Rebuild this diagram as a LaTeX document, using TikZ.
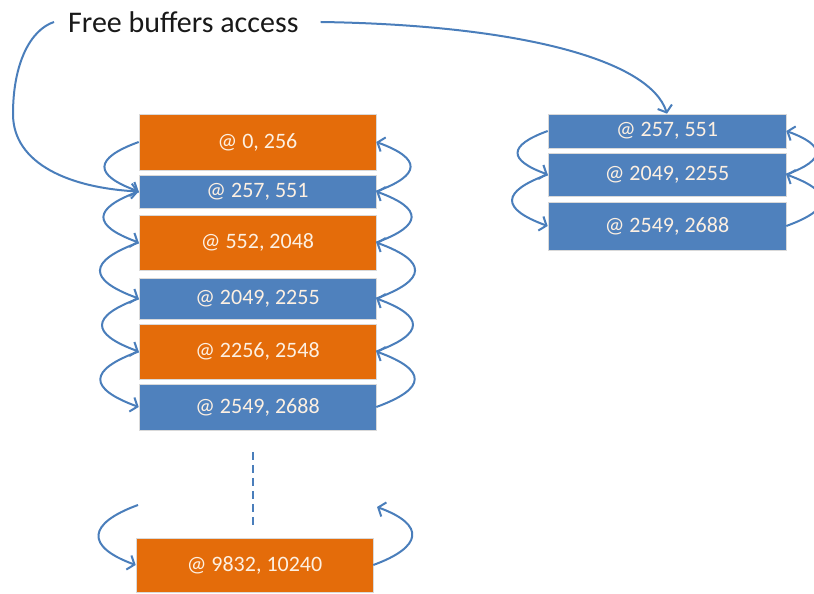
\documentclass[tikz,border=0pt]{standalone}
\usepackage{fontspec}
\setmainfont{Carlito}
\usetikzlibrary{arrows.meta}

\definecolor{usedorange}{RGB}{228,108,10}
\definecolor{freeblue}{RGB}{79,129,189}
\definecolor{linkblue}{RGB}{74,126,187}
\definecolor{labelcream}{RGB}{253,240,226}

\begin{document}
\begin{tikzpicture}[
                x=1pt, y=1pt,
                buffer/.style={draw=white!70!gray, line width=0.6pt, minimum width=237pt, inner sep=0pt,
                    text=labelcream, font=\fontsize{22}{25}\selectfont},
                used/.style={buffer, fill=usedorange},
                free/.style={buffer, fill=freeblue},
                link/.style={draw=linkblue, line width=2pt, -{Straight Barb[length=6pt,width=15pt]}},
                gapline/.style={draw=linkblue, line width=2pt, dash pattern=on 8pt off 5pt}
            ]
            \useasboundingbox (0, 0) rectangle (814, 594);
            \clip (0, 0) rectangle (814, 594);
            \node[font=\fontsize{30}{35}\selectfont, text=black!90, anchor=west, inner sep=0pt] (title) at (68, 572) {Free buffers access};
            % memory list
            \node[used, minimum height=56pt] (b1) at (257.5, 452) {@ 0, 256};
            \node[free, minimum height=33pt] (b2) at (257.5, 402.5) {@ 257, 551};
            \node[used, minimum height=55pt] (b3) at (257.5, 351.5) {@ 552, 2048};
            \node[free, minimum height=41pt] (b4) at (257.5, 295.5) {@ 2049, 2255};
            \node[used, minimum height=55pt] (b5) at (257.5, 242.5) {@ 2256, 2548};
            \node[free, minimum height=46pt] (b6) at (257.5, 187) {@ 2549, 2688};
            \node[used, minimum height=54pt] (b7) at (254.5, 29) {@ 9832, 10240};
            % free list
            \node[free, minimum height=34pt, minimum width=238pt] (r1) at (667, 463) {@ 257, 551};
            \node[free, minimum height=43pt, minimum width=238pt] (r2) at (667, 419.5) {@ 2049, 2255};
            \node[free, minimum height=48pt, minimum width=238pt] (r3) at (667, 368) {@ 2549, 2688};
            \coordinate (dtop) at (253, 142);
            \coordinate (dbot) at (253, 67);
            \coordinate (bl) at (138, 89);
            \coordinate (br) at (377, 87);
            \draw[gapline] (dtop) -- (dbot);
            \draw[link] ([xshift=-14pt]title.west) .. controls (30, 564) and (13, 530) .. (13, 480)
                .. controls (13, 430) and (70, 406) .. (b2.west);
            \draw[link] ([xshift=22pt]title.east) .. controls (520, 569) and (650, 534) .. (r1.north);
            \draw[link] (b1.west) to[out=200, in=160, looseness=2.5] (b2.west);
            \draw[link] (b2.west) to[out=200, in=160, looseness=2.5] (b3.west);
            \draw[link] (b3.west) to[out=200, in=160, looseness=2.5] (b4.west);
            \draw[link] (b4.west) to[out=200, in=160, looseness=2.5] (b5.west);
            \draw[link] (b5.west) to[out=200, in=160, looseness=2.5] (b6.west);
            \draw[link] (b2.east) to[out=20, in=-20, looseness=2.5] (b1.east);
            \draw[link] (b3.east) to[out=20, in=-20, looseness=2.5] (b2.east);
            \draw[link] (b4.east) to[out=20, in=-20, looseness=2.5] (b3.east);
            \draw[link] (b5.east) to[out=20, in=-20, looseness=2.5] (b4.east);
            \draw[link] (b6.east) to[out=20, in=-20, looseness=2.5] (b5.east);
            \draw[link] (bl) to[out=200, in=160, looseness=2.3] (b7.west);
            \draw[link] (b7.east) to[out=20, in=-20, looseness=2.3] (br);
            \draw[link] (r1.west) to[out=200, in=160, looseness=2.5] (r2.west);
            \draw[link] (r2.west) to[out=200, in=160, looseness=2.5] (r3.west);
            \draw[link] (r2.east) to[out=20, in=-20, looseness=2.5] (r1.east);
            \draw[link] (r3.east) to[out=20, in=-20, looseness=2.5] (r2.east);
        \end{tikzpicture}
\end{document}
